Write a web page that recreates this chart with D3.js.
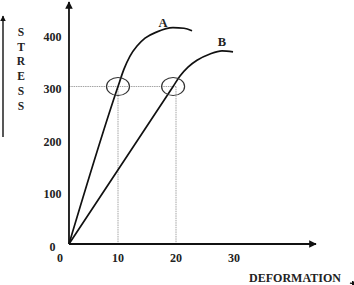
<!DOCTYPE html>
<html><head><meta charset="utf-8">
<script src="https://cdn.jsdelivr.net/npm/d3@7"></script>
<style>
html,body{margin:0;padding:0;background:#fff;}
svg{display:block;}
text{font-family:"Liberation Serif","Times New Roman",serif;font-weight:bold;fill:#222;}
</style></head>
<body>
<script>
// ---- data ----
const xTickValues = [0, 10, 20, 30];
const yTickValues = [0, 100, 200, 300, 400];
const xTitle = "DEFORMATION";
const yTitle = "STRESS";
const seriesNames = ["A", "B"];
// stress-deformation curves (deformation, stress)
const curveA = [[1.55,0],[10,300],[11.03,333],[12.07,358],[13.28,377],[14.66,392],[16.72,404],[19.48,412],[21.38,411],[22.76,406]];
const curveB = [[1.55,0],[19.5,300],[20.69,320],[22.07,337],[23.62,350],[25.86,362],[27.93,368],[29.83,366]];
const yieldStress = 300;
const yieldDeformA = 10;
const yieldDeformB = 19.5;
const guideDeform = [10, 20];

// ---- layout ----
const W = 354, H = 285;
const svg = d3.select("body").append("svg").attr("width", W).attr("height", H);
const x = d3.scaleLinear().domain([0, 30]).range([60, 234]);
const y = d3.scaleLinear().domain([0, 400]).range([244, 34]);
const x0 = x(curveA[0][0]);
const y0 = y(0);

// arrow marker
const defs = svg.append("defs");
defs.append("marker").attr("id","arr").attr("viewBox","0 0 10 10").attr("refX",9).attr("refY",5)
  .attr("markerWidth",4.2).attr("markerHeight",4.2).attr("orient","auto")
  .append("path").attr("d","M0,0L10,5L0,10z").attr("fill","#111");

// guide lines
const guide = svg.append("g").attr("stroke","#9a9a9a").attr("stroke-width",0.9).attr("stroke-dasharray","1.5,0.8");
guide.append("line").attr("x1",x0).attr("x2",x(guideDeform[1])).attr("y1",y(yieldStress)).attr("y2",y(yieldStress));
guide.selectAll("line.v").data(guideDeform).enter().append("line").attr("class","v")
  .attr("x1",d=>x(d)).attr("x2",d=>x(d)).attr("y1",y(yieldStress)).attr("y2",y0);

// axes
svg.append("line").attr("x1",x0).attr("y1",y0).attr("x2",x0).attr("y2",2)
  .attr("stroke","#111").attr("stroke-width",1.8).attr("marker-end","url(#arr)");
svg.append("line").attr("x1",x0).attr("y1",y0).attr("x2",316).attr("y2",y0)
  .attr("stroke","#111").attr("stroke-width",1.8).attr("marker-end","url(#arr)");

// left stress arrow
svg.append("line").attr("x1",3).attr("y1",137).attr("x2",3).attr("y2",16)
  .attr("stroke","#111").attr("stroke-width",1.4).attr("marker-end","url(#arr)");
// bottom-right arrow tip (cut)
svg.append("line").attr("x1",340).attr("y1",282).attr("x2",357).attr("y2",284)
  .attr("stroke","#111").attr("stroke-width",1.4).attr("marker-end","url(#arr)").attr("opacity",1)
  .attr("stroke-dasharray","0,10,7");

// tick labels
svg.selectAll("text.yt").data(yTickValues).enter().append("text").attr("class","yt")
  .attr("x",52.5).attr("y",d=>y(d)+2.5).attr("text-anchor","middle").attr("dominant-baseline","central")
  .attr("font-size",12).text(d=>d);
svg.selectAll("text.xt").data(xTickValues).enter().append("text").attr("class","xt")
  .attr("x",d=>x(d)).attr("y",262).attr("text-anchor","middle")
  .attr("font-size",12).text(d=>d);

// titles
svg.selectAll("text.yl").data(yTitle.split("")).enter().append("text").attr("class","yl")
  .attr("x",21).attr("y",(d,i)=>32 + i*14.7).attr("text-anchor","middle").attr("dominant-baseline","central")
  .attr("font-size",11.5).text(d=>d);
svg.append("text").attr("x",295).attr("y",281.5).attr("text-anchor","middle").attr("font-size",12).text(xTitle);

// curves
const line = d3.line().x(d=>x(d[0])).y(d=>y(d[1])).curve(d3.curveMonotoneX);
[curveA, curveB].forEach(c=>{
  svg.append("path").datum(c).attr("d",line).attr("fill","none").attr("stroke","#111").attr("stroke-width",1.7);
});

// series labels
svg.append("text").attr("x",x(curveA[7][0])-10).attr("y",y(curveA[7][1])-1).attr("text-anchor","middle")
  .attr("font-size",12.5).text(seriesNames[0]);
svg.append("text").attr("x",x(curveB[6][0])).attr("y",y(curveB[6][1])-5).attr("text-anchor","middle")
  .attr("font-size",12.5).text(seriesNames[1]);

// yield circles
svg.selectAll("ellipse").data([yieldDeformA, yieldDeformB]).enter().append("ellipse")
  .attr("cx",d=>x(d)).attr("cy",y(yieldStress)).attr("rx",11.5).attr("ry",9)
  .attr("fill","none").attr("stroke","#333").attr("stroke-width",1.2);
</script>
</body></html>
